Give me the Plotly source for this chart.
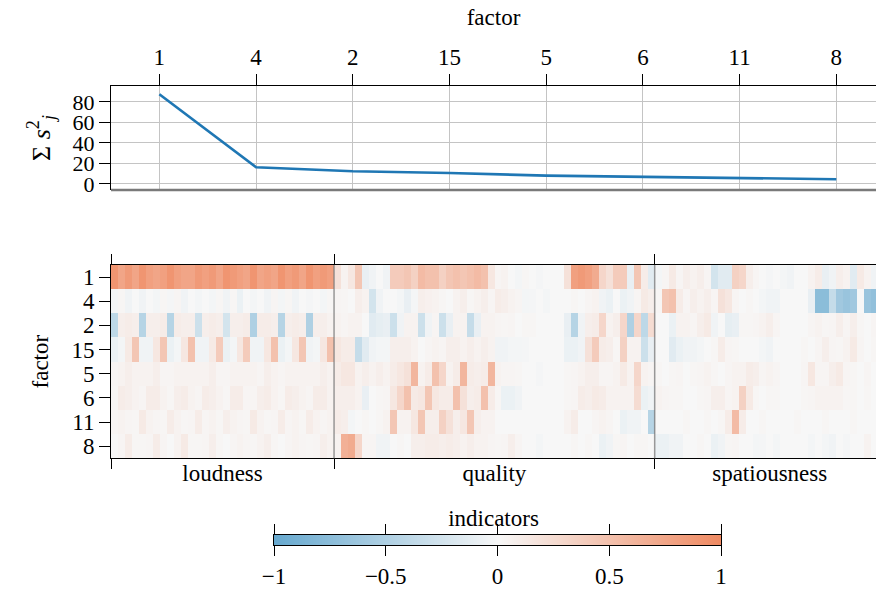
import plotly.graph_objects as go

# ---------------- data ----------------
factors = ["1", "4", "2", "15", "5", "6", "11", "8"]
sum_sq = [87.5, 16.3, 12.4, 10.7, 8.1, 7.1, 5.5, 4.6]

groups = ["loudness", "quality", "spatiousness"]

# loudness indicators (32 columns)
loud_f1 = [0.9, 0.75, 0.85, 0.75, 0.9, 0.8, 0.75, 0.8, 0.9, 0.8, 0.75, 0.75, 0.85, 0.8, 0.85, 0.75,
           0.9, 0.85, 0.8, 0.75, 0.9, 0.75, 0.8, 0.75, 0.9, 0.8, 0.85, 0.75, 0.9, 0.8, 0.85, 0.8]
loud_f4 = [-0.03, 0.02, -0.05, 0.0, -0.05, 0.0, -0.03, 0.02, -0.02, 0.03, -0.05, 0.0, -0.03, 0.0, -0.03, 0.02,
           -0.05, 0.02, -0.08, 0.0, -0.03, 0.0, -0.05, 0.03, -0.03, 0.02, -0.05, 0.0, -0.02, 0.0, -0.03, 0.02]
loud_f2 = [-0.4, 0.08, 0.1, 0.08, -0.45, 0.08, 0.08, 0.1, -0.45, 0.1, 0.08, 0.08, -0.3, 0.08, 0.1, 0.08,
           -0.25, 0.08, 0.08, 0.1, -0.5, 0.1, 0.1, 0.08, -0.45, 0.08, 0.1, 0.08, -0.5, 0.08, 0.08, 0.05]
loud_f15 = [-0.08, -0.03, 0.12, 0.45, -0.05, -0.05, 0.15, 0.45, -0.08, -0.03, 0.15, 0.5, -0.05, -0.05, 0.12, 0.4,
            -0.08, -0.03, 0.15, 0.4, -0.05, -0.05, 0.15, 0.5, -0.08, -0.03, 0.15, 0.45, -0.05, -0.03, 0.15, 0.5]
loud_f5 = [0.03, 0.05, 0.08, 0.05, 0.05, 0.05, 0.08, 0.03, 0.03, 0.05, 0.05, 0.05, 0.05, 0.05, 0.08, 0.03,
           0.03, 0.05, 0.05, 0.05, 0.05, 0.03, 0.08, 0.05, 0.03, 0.05, 0.05, 0.05, 0.05, 0.05, 0.08, 0.05]
loud_f6 = [0.02, 0.1, 0.08, 0.05, 0.03, 0.1, 0.1, 0.05, 0.02, 0.08, 0.1, 0.05, 0.03, 0.1, 0.08, 0.05,
           0.02, 0.1, 0.1, 0.03, 0.03, 0.08, 0.1, 0.05, 0.02, 0.1, 0.08, 0.05, 0.03, 0.1, 0.1, 0.05]
loud_f11 = [0.03, 0.05, 0.03, 0.02, 0.12, 0.05, 0.03, 0.02, 0.1, 0.05, 0.02, 0.03, 0.1, 0.03, 0.05, 0.02,
            0.08, 0.05, 0.03, 0.02, 0.12, 0.05, 0.02, 0.03, 0.1, 0.03, 0.05, 0.02, 0.1, 0.05, 0.03, 0.05]
loud_f8 = [0.0, 0.03, 0.1, 0.02, 0.02, 0.03, 0.1, 0.03, 0.0, 0.05, 0.12, 0.02, 0.02, 0.03, 0.08, 0.02,
           0.0, 0.03, 0.05, 0.03, 0.02, 0.05, 0.08, 0.02, 0.0, 0.03, 0.05, 0.03, 0.02, 0.03, 0.08, 0.05]

# quality indicators (46 columns)
qual_f1 = [0.2, 0.05, 0.15, 0.45, -0.1, -0.05, 0.0, -0.05, 0.4, 0.4, 0.45, 0.35, 0.55, 0.5, 0.5, 0.35, 0.45, 0.5, 0.45, 0.5, 0.55, 0.5, 0.15,
           0.03, 0.05, 0.0, -0.03, 0.02, 0.0, -0.02, 0.0, 0.0, 0.0, 0.2, 0.8, 0.85, 0.8, 0.7, 0.3, 0.2, 0.4, 0.4, -0.1, 0.45, 0.1, -0.15]
qual_f4 = [0.03, 0.02, 0.0, 0.08, 0.05, -0.25, -0.05, 0.0, 0.0, -0.03, -0.1, -0.02, 0.08, 0.06, 0.05, 0.02, 0.0, 0.05, 0.08, 0.02, 0.05, 0.08, 0.03,
           0.1, 0.08, 0.05, 0.03, -0.03, -0.02, 0.0, -0.03, 0.0, 0.0, 0.0, 0.02, 0.0, 0.03, 0.05, -0.05, -0.08, 0.0, -0.08, -0.05, 0.03, 0.12, 0.08]
qual_f2 = [0.05, 0.03, 0.05, 0.05, 0.0, -0.15, -0.12, -0.1, -0.3, -0.05, 0.05, 0.05, -0.3, -0.05, 0.03, -0.3, -0.1, 0.05, 0.05, -0.35, -0.1, 0.05, 0.05,
           0.03, 0.02, 0.03, 0.0, 0.02, 0.02, 0.0, 0.0, 0.0, 0.0, -0.1, -0.45, -0.05, 0.08, 0.1, 0.3, 0.05, 0.08, 0.3, -0.5, 0.3, -0.4, 0.25]
qual_f15 = [0.15, 0.1, 0.1, -0.35, -0.15, -0.05, -0.03, -0.03, 0.08, 0.08, 0.08, 0.05, 0.0, 0.03, 0.05, 0.03, 0.08, 0.08, 0.05, 0.08, 0.05, 0.08, 0.05,
            -0.05, -0.05, -0.03, -0.03, -0.02, 0.0, 0.0, 0.0, 0.0, 0.0, -0.08, -0.08, -0.05, 0.2, 0.4, 0.1, 0.08, 0.02, 0.35, 0.05, 0.05, -0.3, -0.1]
qual_f5 = [0.1, 0.15, 0.15, 0.05, 0.08, 0.05, 0.08, 0.05, 0.1, 0.15, 0.2, 0.6, 0.05, 0.1, 0.5, 0.3, 0.05, 0.1, 0.6, 0.1, 0.08, 0.1, 0.6,
           0.05, 0.03, 0.03, 0.02, 0.0, 0.0, -0.02, 0.0, 0.0, 0.0, 0.02, 0.03, 0.05, 0.08, 0.08, 0.03, 0.03, 0.05, 0.12, 0.05, 0.3, 0.05, 0.03]
qual_f6 = [0.08, 0.08, 0.08, 0.05, -0.1, 0.0, 0.02, 0.03, 0.15, 0.3, 0.5, 0.12, 0.15, 0.45, 0.15, 0.1, 0.1, 0.5, 0.2, 0.08, 0.1, 0.5, 0.1,
           0.02, -0.08, -0.08, -0.05, 0.0, 0.0, 0.0, 0.0, 0.0, 0.0, 0.02, 0.03, 0.1, 0.08, 0.12, 0.1, 0.05, 0.05, 0.05, 0.05, 0.25, -0.08, -0.05]
qual_f11 = [0.1, 0.08, -0.03, 0.0, 0.02, 0.0, 0.02, 0.05, 0.45, 0.05, 0.05, 0.15, 0.45, 0.08, 0.08, 0.35, 0.2, 0.08, 0.15, 0.45, 0.08, 0.05, 0.05,
            0.0, 0.0, 0.0, 0.0, 0.0, 0.0, 0.0, 0.0, 0.0, 0.0, 0.05, 0.1, 0.0, 0.0, 0.03, 0.05, 0.03, 0.0, -0.08, -0.05, -0.05, 0.0, -0.45]
qual_f8 = [0.05, 0.65, 0.7, 0.3, 0.03, 0.03, -0.05, -0.05, 0.0, 0.02, 0.0, 0.08, 0.08, 0.1, 0.1, 0.08, 0.1, 0.08, 0.05, 0.08, 0.05, 0.05, 0.03,
           0.02, 0.03, 0.08, 0.03, 0.0, 0.0, -0.03, 0.0, 0.0, 0.0, 0.0, 0.02, 0.0, 0.02, 0.0, -0.08, -0.05, 0.02, 0.03, 0.0, 0.02, 0.02, 0.0]

# spatiousness indicators (33 columns)
spat_f1 = [-0.03, 0.03, 0.12, 0.03, 0.08, 0.05, 0.08, 0.03, -0.25, -0.15, -0.15, 0.35, 0.3, 0.08, 0.03, 0.0, -0.02,
           0.0, -0.03, -0.05, 0.0, 0.0, 0.05, 0.1, -0.1, -0.05, 0.08, 0.05, -0.15, 0.12, 0.05, -0.05, 0.0]
spat_f4 = [0.02, 0.45, 0.5, 0.1, 0.03, 0.08, 0.05, 0.08, 0.03, 0.2, 0.15, 0.03, 0.0, 0.02, 0.0, -0.03, -0.05,
           -0.05, 0.0, 0.0, 0.0, 0.0, -0.1, -0.75, -0.75, -0.35, -0.6, -0.65, -0.6, 0.0, -0.65, -0.7, -0.7]
spat_f2 = [0.0, 0.0, -0.08, 0.05, 0.05, 0.03, 0.08, 0.12, -0.05, 0.0, -0.12, -0.1, 0.02, 0.02, 0.03, 0.05, 0.08,
           0.03, 0.0, 0.0, 0.0, 0.0, 0.03, 0.05, 0.02, 0.03, 0.08, 0.03, 0.08, 0.02, 0.0, 0.03, 0.0]
spat_f15 = [0.0, 0.0, -0.15, -0.08, -0.05, -0.05, -0.03, 0.0, 0.02, 0.1, 0.03, 0.02, 0.0, 0.0, 0.0, -0.03, -0.05,
            0.0, 0.0, 0.0, 0.0, 0.02, 0.0, 0.03, 0.08, 0.03, 0.02, 0.05, 0.12, 0.03, 0.0, 0.02, 0.0]
spat_f5 = [0.02, 0.0, 0.02, 0.03, 0.0, 0.02, 0.03, 0.05, 0.02, 0.0, 0.03, 0.05, 0.05, 0.1, 0.08, 0.03, 0.05,
           0.03, 0.0, 0.0, 0.0, 0.03, 0.15, 0.03, 0.03, 0.08, 0.12, 0.03, 0.02, 0.0, 0.03, 0.0, 0.0]
spat_f6 = [0.05, 0.03, 0.02, 0.02, 0.0, 0.0, 0.02, 0.03, 0.08, 0.08, 0.03, 0.05, 0.35, 0.12, 0.02, 0.0, 0.02,
           0.02, 0.0, 0.0, 0.0, 0.02, 0.03, 0.05, 0.05, 0.05, 0.05, 0.02, 0.02, 0.0, 0.02, 0.0, 0.0]
spat_f11 = [0.0, 0.0, 0.0, 0.0, 0.02, 0.0, 0.0, 0.02, 0.0, 0.02, 0.1, 0.55, 0.1, 0.0, 0.0, 0.02, 0.0,
            0.0, 0.0, 0.0, 0.02, 0.0, 0.0, 0.0, 0.02, 0.0, 0.0, 0.0, 0.02, 0.0, 0.0, 0.0, 0.0]
spat_f8 = [-0.08, -0.08, -0.05, -0.05, 0.0, 0.0, 0.02, 0.0, -0.08, -0.05, 0.02, 0.03, 0.0, 0.0, -0.03, -0.02, 0.0,
           -0.03, 0.0, 0.0, 0.0, 0.0, -0.03, 0.0, -0.03, -0.05, 0.0, -0.02, 0.0, 0.0, 0.05, 0.0, 0.0]

cbar_ticks = [-1, -0.5, 0, 0.5, 1]
cbar_text = ["\u22121", "\u22120.5", "0", "0.5", "1"]

# ---------------- assemble ----------------
loud = [loud_f1, loud_f4, loud_f2, loud_f15, loud_f5, loud_f6, loud_f11, loud_f8]
qual = [qual_f1, qual_f4, qual_f2, qual_f15, qual_f5, qual_f6, qual_f11, qual_f8]
spat = [spat_f1, spat_f4, spat_f2, spat_f15, spat_f5, spat_f6, spat_f11, spat_f8]
z = [l + q + s for l, q, s in zip(loud, qual, spat)]
sizes = [len(loud_f1), len(qual_f1), len(spat_f1)]
n_cols = sum(sizes)
bounds = [-0.5]
for s in sizes:
    bounds.append(bounds[-1] + s)
centers = [(bounds[i] + bounds[i + 1]) / 2 for i in range(len(sizes))]

colorscale = [[0.0, "#67a9cf"], [0.5, "#f7f7f7"], [1.0, "#ef8a62"]]

W, H = 876, 592
left_px, full_right_px = 111, 884.7
vis_frac = (W - left_px) / (full_right_px - left_px)

FONT = "Liberation Serif"
TICKF = dict(family=FONT, size=23, color="black")

fig = go.Figure()

fig.add_trace(go.Scatter(x=factors, y=sum_sq, mode="lines",
                         line=dict(color="#1f77b4", width=2.6),
                         xaxis="x", yaxis="y", showlegend=False))

fig.add_trace(go.Heatmap(z=z, y=factors, colorscale=colorscale, zmin=-1, zmax=1,
                         showscale=False, xaxis="x2", yaxis="y2", hoverinfo="skip"))

fig.add_trace(go.Heatmap(z=[cbar_ticks], x=cbar_ticks, colorscale=colorscale, zmin=-1, zmax=1,
                         zsmooth="best", showscale=False, xaxis="x3", yaxis="y3", hoverinfo="skip"))

xdom = [left_px / W, 1.0]
grid = "#c4c4c4"

fig.update_layout(
    template="none",
    width=W, height=H, margin=dict(l=0, r=0, t=0, b=0, pad=0, autoexpand=False),
    paper_bgcolor="white", plot_bgcolor="white",
    font=dict(family=FONT, size=23, color="black"),
    xaxis=dict(domain=xdom, anchor="y", type="category", side="top", automargin=False,
               range=[-0.5, -0.5 + len(factors) * vis_frac],
               tickmode="array", tickvals=factors, ticktext=factors,
               showline=True, linecolor="black", linewidth=1,
               ticks="outside", ticklen=11, tickcolor="black",
               showgrid=True, gridcolor=grid, gridwidth=1,
               tickfont=TICKF,
               title=dict(text="factor", font=dict(family=FONT, size=23), standoff=12)),
    yaxis=dict(domain=[1 - 190 / H, 1 - 86 / H], anchor="x", automargin=False,
               range=[-5.9, 95.6], tickvals=[0, 20, 40, 60, 80],
               showline=True, linecolor="black", linewidth=1,
               ticks="outside", ticklen=11, tickcolor="black",
               showgrid=True, gridcolor=grid, zeroline=False,
               tickfont=dict(family=FONT, size=22, color="black"),
               title=dict(text="\u03a3 <i>s</i><sup>2</sup><sub><i>j</i></sub>",
                          font=dict(family=FONT, size=26), standoff=14)),
    xaxis2=dict(domain=xdom, anchor="y2", automargin=False,
                range=[-0.5, -0.5 + n_cols * vis_frac],
                tickmode="array", tickvals=centers, ticktext=groups, ticks="", ticklen=0,
                ticklabelstandoff=-6,
                minor=dict(tickmode="array", tickvals=bounds, ticks="outside", ticklen=10,
                           tickcolor="black", showgrid=False),
                showline=True, linecolor="black", linewidth=1, mirror="ticks",
                showgrid=False, zeroline=False, tickfont=TICKF,
                title=dict(text="indicators", font=dict(family=FONT, size=23), standoff=24)),
    yaxis2=dict(domain=[1 - 458.3 / H, 1 - 265 / H], anchor="x2", automargin=False,
                type="category", autorange="reversed",
                tickmode="array", tickvals=factors, ticktext=factors,
                showline=True, linecolor="black", linewidth=1, mirror=True,
                ticks="outside", ticklen=11, tickcolor="black",
                showgrid=False, zeroline=False, tickfont=TICKF,
                title=dict(text="factor", font=dict(family=FONT, size=23), standoff=16)),
    xaxis3=dict(domain=[274 / W, 721 / W], anchor="y3", range=[-1, 1], automargin=False,
                tickmode="array", tickvals=cbar_ticks, ticktext=cbar_text,
                ticks="outside", ticklen=10, tickcolor="black",
                showline=True, linecolor="black", linewidth=1, mirror="ticks",
                showgrid=False, zeroline=False, tickfont=TICKF),
    yaxis3=dict(domain=[1 - 545 / H, 1 - 535 / H], anchor="x3", range=[-0.5, 0.5], automargin=False,
                showticklabels=False, ticks="", showgrid=False, zeroline=False,
                showline=True, linecolor="black", linewidth=1, mirror=True),
)

# gray bottom spine of the top panel
fig.add_shape(type="line", xref="x domain", yref="y domain", x0=0, x1=1, y0=0, y1=0,
              line=dict(color="#7a7a7a", width=2.5))
# group separators inside the heatmap
for b in bounds[1:-1]:
    fig.add_shape(type="line", xref="x2", yref="y2 domain", x0=b, x1=b, y0=0, y1=1,
                  line=dict(color="rgba(120,120,120,0.75)", width=1.5))

fig.write_html("out.html")
